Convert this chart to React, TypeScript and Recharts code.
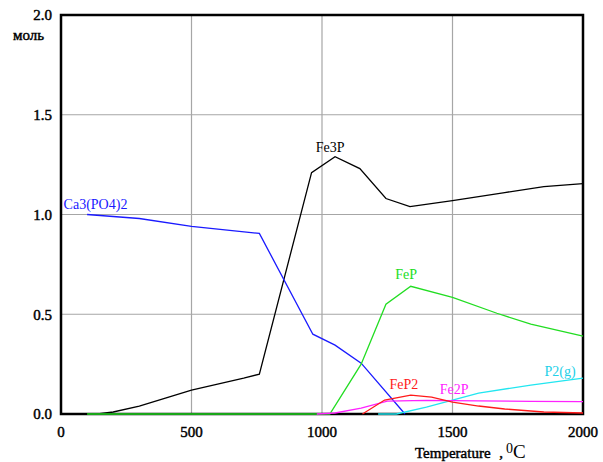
import { LineChart, Line, XAxis, YAxis, CartesianGrid, ReferenceDot, ReferenceArea } from 'recharts'

const fe3pT = [0, 140, 200, 300, 400, 500, 600, 700, 760, 960, 1050, 1145, 1245, 1337, 1500, 1700, 1850, 2000]
const fe3pV = [0, 0, 0.01, 0.04, 0.08, 0.12, 0.15, 0.18, 0.2, 1.21, 1.29, 1.23, 1.08, 1.04, 1.07, 1.11, 1.14, 1.155]

const caT = [100, 300, 500, 760, 965, 1050, 1150, 1318]
const caV = [1.0, 0.98, 0.94, 0.905, 0.4, 0.345, 0.255, 0]

const fepT = [100, 1030, 1150, 1245, 1340, 1500, 1670, 1800, 2000]
const fepV = [0, 0, 0.25, 0.55, 0.64, 0.585, 0.505, 0.45, 0.39]

const fep2T = [1155, 1240, 1340, 1420, 1500, 1600, 1700, 1850, 2000]
const fep2V = [0, 0.07, 0.095, 0.085, 0.06, 0.04, 0.025, 0.01, 0.005]

const fe2pT = [980, 1050, 1150, 1250, 1400, 1600, 1800, 2000]
const fe2pV = [0, 0.005, 0.03, 0.065, 0.068, 0.066, 0.063, 0.062]

const p2T = [1215, 1285, 1400, 1500, 1600, 1800, 2000]
const p2V = [0, 0, 0.035, 0.07, 0.105, 0.145, 0.18]

const xTicks = [0, 500, 1000, 1500, 2000]
const yTicks = [0, 0.5, 1.0, 1.5, 2.0]

const zip = (t: number[], v: number[]) => t.map((x, i) => ({ t: x, v: v[i] }))

const series = [
  { name: 'Fe3P', color: '#000000', data: zip(fe3pT, fe3pV) },
  { name: 'Ca3(PO4)2', color: '#1a1aff', data: zip(caT, caV) },
  { name: 'FeP', color: '#22dd22', data: zip(fepT, fepV) },
  { name: 'P2(g)', color: '#22e6f0', data: zip(p2T, p2V) },
  { name: 'Fe2P', color: '#ff22ff', data: zip(fe2pT, fe2pV) },
  { name: 'FeP2', color: '#ff1a1a', data: zip(fep2T, fep2V) },
]

// label anchor points in data units
const labels = [
  { text: 'Fe3P', t: 1031, v: 1.34, color: '#000000', anchor: 'middle' },
  { text: 'Ca3(PO4)2', t: 10, v: 1.05, color: '#1a1aff', anchor: 'start' },
  { text: 'FeP', t: 1322, v: 0.7, color: '#22dd22', anchor: 'middle' },
  { text: 'FeP2', t: 1314, v: 0.15, color: '#ff1a1a', anchor: 'middle' },
  { text: 'Fe2P', t: 1506, v: 0.125, color: '#ff22ff', anchor: 'middle' },
  { text: 'P2(g)', t: 1912, v: 0.215, color: '#22d0e8', anchor: 'middle' },
]

const font = 'Liberation Serif'
const tickStyle = { fill: '#000', stroke: '#000', strokeWidth: 0.45, fontSize: 15, fontFamily: font }

export default function App() {
  return (
    <div style={{ position: 'absolute', left: 0, top: 0, width: 603, height: 462, background: '#fff', fontFamily: font }}>
      <LineChart width={603} height={462} margin={{ top: 15, right: 20, bottom: 18, left: 11 }} style={{ fontFamily: font }}>
        <CartesianGrid stroke="#a6a6a6" strokeWidth={1.2} />
        <ReferenceArea x1={0} x2={2000} y1={0} y2={2} fill="none" stroke="#000" strokeWidth={2.5} fillOpacity={0} />
        <XAxis
          dataKey="t"
          type="number"
          domain={[0, 2000]}
          ticks={xTicks}
          height={30}
          tickSize={0}
          tickMargin={12}
          axisLine={false}
          tick={tickStyle}
          allowDuplicatedCategory={false}
        />
        <YAxis
          type="number"
          domain={[0, 2]}
          ticks={yTicks}
          width={50}
          tickSize={0}
          tickMargin={9}
          tickFormatter={(v: number) => v.toFixed(1)}
          axisLine={false}
          tick={tickStyle}
        />
        {series.map((s) => (
          <Line
            key={s.name}
            data={s.data}
            dataKey="v"
            type="linear"
            stroke={s.color}
            strokeWidth={1.3}
            dot={false}
            isAnimationActive={false}
          />
        ))}
        {labels.map((l) => (
          <ReferenceDot
            key={l.text}
            x={l.t}
            y={l.v}
            r={0}
            fill="none"
            stroke="none"
            label={{ value: l.text, fill: l.color, fontSize: 14, fontFamily: font, textAnchor: l.anchor, position: 'center' }}
          />
        ))}
      </LineChart>
      <div style={{ position: 'absolute', left: 13, top: 27, fontSize: 15, color: '#000', WebkitTextStroke: '0.45px #000' }}>моль</div>
      <div style={{ position: 'absolute', left: 415, top: 441, fontSize: 15, color: '#000', whiteSpace: 'nowrap', WebkitTextStroke: '0.45px #000' }}>
        Temperature <span style={{ marginLeft: 5 }}>,</span>
        <span style={{ marginLeft: 3, position: 'relative', top: -5, fontSize: 14, WebkitTextStroke: '0px' }}>0</span>
        <span style={{ fontSize: 19, WebkitTextStroke: '0px' }}>C</span>
      </div>
    </div>
  )
}
